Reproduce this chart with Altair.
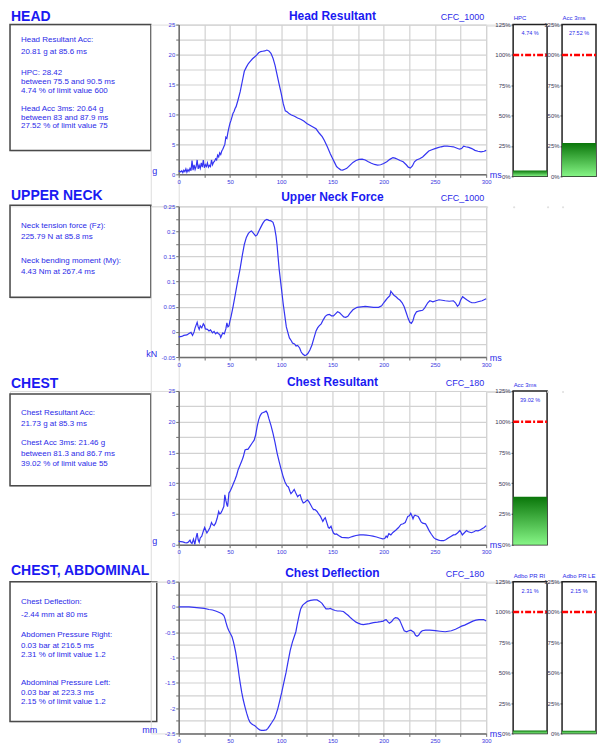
import altair as alt
import pandas as pd

FONT = "Liberation Sans"
TXT = "#2b2be8"
HEAD_BLUE = "#1a1af2"
LINE = "#3434f2"
TICK_LBL = "#3a3ae0"
GRID = "#d2d2d2"
AXIS = "#6e6e6e"

# ---------------- data ----------------
head_t = [0, 1, 2, 3, 4, 5, 6, 7, 8, 9, 10, 11, 12, 13, 14, 15, 16, 17, 18, 19, 20, 21, 22, 23, 24, 25,
          26, 27, 28, 29, 30, 31, 32, 33, 34, 35, 36, 37, 38, 39, 40, 41, 42, 43, 44, 45, 46, 47, 48, 49,
          50, 51, 52, 53, 54, 55, 56, 58, 60, 62, 64, 66, 68, 70, 72, 74, 76, 78, 80, 82, 84, 86, 88, 90,
          92, 94, 96, 98, 100, 102, 104, 106, 108, 110, 113, 116, 119, 122, 125, 128, 131, 134, 137, 140,
          142, 145, 148, 150, 152, 154, 156, 158, 160, 162, 164, 167, 170, 173, 176, 179, 182, 185, 188,
          191, 194, 197, 200, 203, 206, 209, 211, 213, 216, 219, 222, 224, 226, 228, 230, 232, 235, 238,
          241, 244, 247, 250, 253, 256, 259, 262, 265, 268, 271, 274, 276, 278, 280, 283, 286, 289, 292,
          295, 298, 300]
head_g = [0.5, 0.55, 0.4, 0.6, 0.3, 0.7, 0.45, 0.9, 0.35, 0.8, 0.5, 1.0, 0.6, 2.3, 0.7, 1.6, 0.8, 1.3,
          2.4, 0.9, 1.5, 1.0, 1.9, 1.2, 2.4, 1.1, 1.6, 1.3, 1.9, 1.2, 1.5, 1.3, 2.4, 1.6, 2.0, 2.2, 2.6,
          2.4, 3.2, 2.9, 3.6, 3.3, 3.9, 4.2, 4.6, 5.0, 6.2, 6.0, 7.0, 7.8, 8.5, 9.0, 9.6, 10.2, 10.5, 11.0,
          11.3, 12.5, 13.8, 15.5, 17.2, 17.9, 18.5, 18.9, 19.3, 19.6, 19.9, 20.3, 20.5, 20.55, 20.6, 20.75,
          20.6, 20.2, 19.4, 18.2, 16.6, 15.0, 13.5, 11.8, 10.6, 10.4, 10.1, 9.9, 9.7, 9.4, 9.2, 8.9, 8.5,
          8.2, 7.9, 7.6, 6.9, 6.3, 5.7, 4.6, 3.4, 2.7, 2.0, 1.3, 1.0, 0.75, 0.7, 0.85, 1.0, 1.5, 2.0, 2.3,
          2.5, 2.55, 2.4, 2.1, 1.85, 1.65, 1.55, 1.6, 1.8, 2.1, 2.5, 2.8, 2.7, 2.55, 2.3, 2.1, 1.6, 1.2,
          1.05, 1.4, 2.1, 2.4, 2.6, 2.9, 3.4, 3.9, 4.1, 4.3, 4.45, 4.6, 4.7, 4.7, 4.65, 4.6, 4.4, 4.2,
          4.3, 4.7, 4.6, 4.5, 4.3, 4.0, 3.85, 3.75, 3.85, 4.0]

neck_t = [0, 3, 5, 8, 10, 12, 13.5, 15, 16, 18, 19, 20, 21, 22.5, 24, 25, 26, 28, 29.5, 31, 33, 34.5,
          36, 37.5, 38.5, 40, 41, 42, 43, 44.5, 46, 47, 48, 49, 50, 51, 53, 55, 57, 60, 62, 64, 66, 68,
          70, 71, 73, 75, 76.5, 78, 80, 82, 84, 86, 88, 90, 92, 93.5, 95, 96, 97, 98, 100, 102, 104, 105,
          107, 108, 110, 111, 113, 114.5, 116, 118, 119.5, 121, 123, 124.5, 126, 128, 130, 132, 134,
          135.5, 137, 139, 141, 143, 145, 147, 149, 151, 153, 155, 157, 159, 161, 163, 165, 167, 170,
          174, 178, 182, 186, 190, 195, 198, 200, 202, 204, 206, 207, 208, 210, 212, 214, 216, 218, 220,
          222, 224, 225.5, 227, 228.5, 230, 232, 235, 238, 240, 243, 245, 248, 251, 254, 257, 260, 264,
          268, 270, 272, 273.5, 275, 277, 279, 281, 284, 286, 289, 292, 296, 300]
neck_kn = [-0.010, -0.009, -0.007, -0.006, -0.003, -0.001, -0.007, 0.0, 0.008, 0.019, 0.010, 0.005,
           0.012, 0.008, 0.016, 0.013, 0.006, 0.005, 0.002, 0.004, -0.002, 0.001, -0.004, -0.001, -0.003,
           -0.005, -0.011, -0.006, -0.002, -0.004, 0.006, 0.018, 0.010, 0.012, 0.022, 0.030, 0.050, 0.072,
           0.095, 0.127, 0.152, 0.174, 0.188, 0.196, 0.200, 0.201, 0.196, 0.191, 0.193, 0.200, 0.208,
           0.216, 0.222, 0.224, 0.222, 0.221, 0.218, 0.208, 0.190, 0.172, 0.148, 0.125, 0.090, 0.055,
           0.025, 0.010, -0.005, -0.012, -0.018, -0.022, -0.024, -0.028, -0.027, -0.032, -0.040, -0.044,
           -0.047, -0.046, -0.043, -0.036, -0.026, -0.012, 0.002, 0.008, 0.012, 0.016, 0.024, 0.031,
           0.034, 0.035, 0.032, 0.032, 0.036, 0.040, 0.038, 0.034, 0.030, 0.029, 0.031, 0.037, 0.044,
           0.049, 0.050, 0.051, 0.050, 0.049, 0.049, 0.052, 0.058, 0.063, 0.068, 0.072, 0.081, 0.078,
           0.073, 0.070, 0.066, 0.063, 0.058, 0.050, 0.038, 0.026, 0.019, 0.017, 0.022, 0.033, 0.040,
           0.042, 0.043, 0.048, 0.058, 0.062, 0.060, 0.062, 0.064, 0.063, 0.062, 0.061, 0.062, 0.058,
           0.051, 0.054, 0.063, 0.070, 0.067, 0.064, 0.060, 0.058, 0.058, 0.060, 0.062, 0.066]

chest_t = [0, 2, 4, 6, 8, 9.5, 11, 12, 13, 14.4, 15.7, 17, 18, 19, 20, 21, 22.5, 24, 25.3, 26.5, 27.5,
           29, 30.5, 32, 33, 34.5, 36, 37.5, 39, 40, 41, 42.5, 44, 45, 46, 47, 47.7, 48.5, 49, 50.5, 52,
           53.5, 55, 56.5, 58, 60, 61.5, 63, 64.7, 66, 67.5, 69.5, 71.5, 73.6, 75, 76.5, 78, 79.5, 81,
           82.5, 84, 85.3, 86.5, 88, 90, 92, 94, 96, 98, 100, 102, 103.7, 105.5, 107, 108.5, 109.5, 111,
           112.7, 114, 116, 117, 118.5, 120, 121.5, 123, 125.5, 127, 128.7, 130, 131.5, 133, 135, 136.5,
           138.3, 139.5, 140.6, 142, 143, 144.5, 146, 147, 148.6, 150, 151, 152.5, 154, 156, 159, 162,
           165.5, 168, 170, 173, 176.7, 180, 183, 186, 189.5, 193, 196, 199, 201, 202.4, 203.5, 205, 207,
           209, 212, 214.5, 216.8, 219, 221, 222.5, 223.5, 225, 226.4, 227.5, 228.6, 229.5, 230.5, 232,
           233.7, 235, 236.5, 238, 240.8, 242.5, 244.6, 246.5, 248.8, 251, 253.6, 256, 258.4, 260.5, 263,
           265.5, 268, 270, 272, 274.4, 275.5, 276.7, 278.5, 280.8, 282.5, 285.6, 288, 290, 292, 294, 296,
           298, 300]
chest_g = [0.55, 0.5, 0.45, 0.35, 0.3, 0.45, 0.75, 0.35, 0.2, 0.9, 0.05, 1.2, 1.9, 0.8, 0.4, 1.1, 1.4,
           2.2, 2.8, 2.3, 1.9, 2.3, 2.8, 3.6, 3.3, 3.1, 3.5, 4.3, 5.4, 5.0, 5.1, 5.6, 6.2, 8.1, 7.2, 6.5,
           6.2, 7.5, 8.4, 8.8, 9.4, 10.0, 10.6, 11.3, 12.2, 13.0, 13.6, 14.3, 15.4, 15.5, 15.5, 16.0,
           16.5, 17.0, 17.8, 19.2, 20.3, 21.0, 21.4, 21.5, 21.6, 21.73, 21.4, 20.5, 19.4, 18.1, 16.6,
           14.9, 13.5, 12.2, 11.0, 10.2, 9.6, 9.4, 8.7, 8.3, 8.6, 9.0, 8.5, 7.8, 8.0, 8.1, 7.3, 6.8, 6.9,
           7.3, 7.0, 6.5, 6.1, 5.7, 5.7, 5.4, 5.0, 4.6, 4.2, 3.8, 4.2, 4.4, 3.6, 2.8, 2.7, 3.0, 2.3, 1.9,
           1.7, 1.75, 1.5, 1.2, 1.15, 1.1, 1.25, 1.35, 1.5, 1.6, 1.6, 1.55, 1.5, 1.4, 1.25, 1.1, 0.95,
           1.0, 1.4, 1.2, 1.8, 1.6, 2.0, 2.4, 2.8, 3.3, 3.4, 3.6, 4.2, 4.6, 4.7, 5.1, 4.7, 4.2, 4.6, 4.8,
           4.7, 4.6, 4.2, 3.7, 3.5, 3.4, 2.9, 2.2, 1.7, 1.15, 0.9, 0.75, 0.65, 0.65, 0.8, 1.1, 1.35, 1.6,
           1.65, 1.9, 2.3, 2.0, 1.6, 1.9, 2.3, 2.1, 1.95, 2.1, 2.3, 2.25, 2.4, 2.6, 2.8, 3.1]

defl_t = [0, 5, 10, 15, 20, 25, 29.5, 33, 36, 38.5, 40.7, 42.5, 44, 45, 46, 47.5, 48.7, 50.5, 52, 53.3,
          54.4, 55.6, 56.7, 58, 59, 60.2, 61.5, 63, 64.7, 66.3, 68, 69.5, 71, 72.5, 74.3, 76, 77.5, 79,
          80.7, 83, 85.5, 87, 88.7, 91, 93.5, 95, 96.7, 98.5, 100.5, 102.5, 104.7, 106.5, 108.8, 111,
          112.5, 114.3, 115.5, 116.8, 118, 119, 120.8, 122.9, 125.5, 128.6, 132, 135, 137.5, 139.8, 141.5,
          143.7, 146, 147.9, 150, 152.7, 155, 157.5, 160.7, 163, 165.5, 168, 170.3, 173, 175, 177.5, 180,
          183, 186, 190, 194, 197, 199.6, 201, 202.4, 204, 205.6, 207.8, 209.5, 211.4, 213.6, 215.5,
          216.8, 218.5, 220, 222.4, 224.5, 226.5, 228, 229.5, 231, 232.5, 234, 236, 237.6, 240.8, 245,
          250.4, 255, 260, 263, 266, 270, 273, 276, 279, 282, 284, 287, 290, 293, 295, 297.5, 300]
defl_mm = [0.0, 0.0, 0.0, -0.01, -0.02, -0.03, -0.05, -0.06, -0.08, -0.10, -0.12, -0.14, -0.17, -0.22,
           -0.3, -0.4, -0.46, -0.53, -0.59, -0.68, -0.78, -0.9, -1.04, -1.22, -1.37, -1.53, -1.69, -1.84,
           -1.98, -2.1, -2.21, -2.28, -2.31, -2.33, -2.35, -2.38, -2.41, -2.43, -2.44, -2.44, -2.43,
           -2.40, -2.35, -2.28, -2.2, -2.12, -2.01, -1.86, -1.69, -1.5, -1.3, -1.1, -0.86, -0.69, -0.6,
           -0.49, -0.36, -0.23, -0.12, -0.04, 0.03, 0.07, 0.11, 0.13, 0.14, 0.14, 0.11, 0.07, 0.02, -0.04,
           -0.04, -0.03, -0.05, -0.07, -0.08, -0.08, -0.09, -0.13, -0.17, -0.22, -0.26, -0.3, -0.32,
           -0.34, -0.35, -0.34, -0.33, -0.31, -0.3, -0.29, -0.28, -0.26, -0.25, -0.29, -0.32, -0.29,
           -0.24, -0.21, -0.22, -0.26, -0.32, -0.4, -0.47, -0.49, -0.47, -0.46, -0.48, -0.5, -0.56,
           -0.58, -0.56, -0.5, -0.47, -0.46, -0.46, -0.47, -0.48, -0.49, -0.48, -0.47, -0.44, -0.41,
           -0.38, -0.36, -0.33, -0.31, -0.28, -0.26, -0.25, -0.25, -0.25, -0.28]

head_lines = ["Head Resultant Acc:", "20.81 g at 85.6 ms", "HPC: 28.42", "between 75.5 and 90.5 ms",
              "4.74 % of limit value 600", "Head Acc 3ms: 20.64 g", "between 83 and 87.9 ms",
              "27.52 % of limit value 75"]
neck_lines = ["Neck tension force (Fz):", "225.79 N at 85.8 ms", "Neck bending moment (My):",
              "4.43 Nm at 267.4 ms"]
chest_lines = ["Chest Resultant Acc:", "21.73 g at 85.3 ms", "Chest Acc 3ms: 21.46 g",
               "between 81.3 and 86.7 ms", "39.02 % of limit value 55"]
abdo_lines = ["Chest Deflection:", "-2.44 mm at 80 ms", "Abdomen Pressure Right:", "0.03 bar at 216.5 ms",
              "2.31 % of limit value 1.2", "Abdominal Pressure Left:", "0.03 bar at 223.3 ms",
              "2.15 % of limit value 1.2"]

gauge_names = ["HPC", "Acc 3ms", "Acc 3ms", "Adbo PR RI", "Adbo PR LE"]
gauge_pct = [4.74, 27.52, 39.02, 2.31, 2.15]
gauge_pct_labels = ["4.74 %", "27.52 %", "39.02 %", "2.31 %", "2.15 %"]
gauge_ticks = [0, 25, 50, 75, 100, 125]
gauge_limit = 100

# ---------------- layout (pixels) ----------------
head_line_y = [15, 27.3, 48.7, 58, 66.5, 85, 93.2, 101.7]
neck_line_y = [20, 30.6, 55, 66]
chest_line_y = [21.7, 33, 52.3, 63, 73.3]
abdo_line_y = [20, 33.3, 53.3, 64.3, 73, 101.3, 111.7, 120.3]
PANEL_W, GAP1, CHART_W, GAP2, GAUGE_W, GAP3 = 141, 28, 308, 27, 34, 15

ONE = alt.Data(values=[{"a": 0}])
NONE = alt.Data(values=[])

GRAD = alt.LinearGradient(
    gradient="linear",
    stops=[alt.GradientStop(color="#0a760a", offset=0), alt.GradientStop(color="#86f586", offset=1)],
    x1=0, x2=0, y1=0, y2=1)


def spacer(w, h):
    return alt.Chart(NONE).mark_point(opacity=0, size=0).encode(
        x=alt.value(1), y=alt.value(1)).properties(width=w, height=h)


def text_panel(heading, heading_y, lines, line_ys, box_top, box_h, box_w, h):
    box = alt.Chart(ONE).mark_rect(fill="white", fillOpacity=0, stroke="#4a4a4a", strokeWidth=1.5).encode(
        x=alt.value(0), x2=alt.value(box_w), y=alt.value(box_top), y2=alt.value(box_top + box_h))
    head = alt.Chart(ONE).mark_text(text=heading, align="left", baseline="alphabetic", fontSize=14,
                                    fontWeight="bold", color=HEAD_BLUE, font=FONT).encode(
        x=alt.value(1), y=alt.value(heading_y))
    df = pd.DataFrame({"line": lines, "ypos": line_ys})
    body = alt.Chart(df).mark_text(align="left", baseline="middle", fontSize=8, color=TXT, font=FONT).encode(
        x=alt.value(11), y=alt.Y("ypos:Q", scale=None, axis=None), text="line:N")
    return alt.layer(box, head, body).properties(width=PANEL_W, height=h)


def line_chart(t, v, title, cfc, ylo, yhi, ymajor, ytitle, h):
    w = CHART_W
    yminor = ymajor / 2
    n = int(round((yhi - ylo) / yminor))
    yvals = [round(ylo + i * yminor, 4) for i in range(n + 1)]
    ylab = (f"abs(datum.value / {ymajor} - round(datum.value / {ymajor})) < 0.001 "
            f"? '' + datum.value : ''")
    common = dict(grid=True, gridColor=GRID, gridWidth=1.2, domainColor=AXIS, domainWidth=1.5,
                  tickColor=AXIS, tickSize=3, tickWidth=1, labelFontSize=6, labelColor=TICK_LBL,
                  labelFont=FONT, labelOverlap=False, labelFlush=False, titleFont=FONT, titleFontSize=9,
                  titleFontWeight="normal", titleColor=TXT, titleAngle=0, titleBaseline="middle")
    xax = alt.Axis(values=list(range(0, 301, 25)),
                   labelExpr="datum.value % 50 == 0 ? '' + datum.value : ''", labelPadding=1,
                   title="ms", titleX=w + 3, titleY=0, titleAlign="left", **common)
    yax = alt.Axis(values=yvals, labelExpr=ylab, labelPadding=1, title=ytitle, titleX=-22,
                   titleY=h - 4, titleAlign="right", **common)
    df = pd.DataFrame({"t": t, "v": v})
    line = alt.Chart(df).mark_line(color=LINE, strokeWidth=1.2).encode(
        x=alt.X("t:Q", scale=alt.Scale(domain=[0, 300], nice=False, zero=False), axis=xax),
        y=alt.Y("v:Q", scale=alt.Scale(domain=[ylo, yhi], nice=False, zero=False), axis=yax))
    cfc_txt = alt.Chart(ONE).mark_text(text=cfc, align="right", baseline="alphabetic", fontSize=9,
                                       color=TXT, font=FONT).encode(x=alt.value(w - 2), y=alt.value(-5))
    ttl = alt.Chart(ONE).mark_text(text=title, align="center", baseline="alphabetic", fontSize=12,
                                   fontWeight="bold", color=HEAD_BLUE, font=FONT).encode(
        x=alt.value(w / 2), y=alt.value(-5))
    return alt.layer(line, cfc_txt, ttl).properties(width=w, height=h)


def gauge(i, h, title_y, val_y):
    w = GAUGE_W
    df = pd.DataFrame({"pct": [gauge_pct[i]]})
    ysc = alt.Scale(domain=[0, 125], nice=False, zero=True)
    yax = alt.Axis(values=gauge_ticks, labelExpr="datum.value + '%'", grid=False, domain=False,
                   ticks=True, tickSize=2, tickColor="#333333", labelFontSize=6, labelColor="#3a3a58",
                   labelFont=FONT, labelPadding=1, title=None, labelOverlap=False)
    bar = alt.Chart(df).mark_bar(color=GRAD).encode(
        x=alt.value(0), x2=alt.value(w), y=alt.Y("pct:Q", scale=ysc, axis=yax), y2=alt.datum(0))
    lim = alt.Chart(ONE).mark_rule(color="#ff0000", strokeWidth=2.5, strokeDash=[6, 2, 2, 2]).encode(
        x=alt.value(0), x2=alt.value(w), y=alt.YDatum(gauge_limit, scale=ysc, axis=yax))
    val = alt.Chart(ONE).mark_text(text=gauge_pct_labels[i], align="center", baseline="middle",
                                   fontSize=5.5, color=TXT, font=FONT).encode(
        x=alt.value(w / 2), y=alt.value(val_y))
    ttl = alt.Chart(ONE).mark_text(text=gauge_names[i], align="left", baseline="alphabetic",
                                   fontSize=6, color=TXT, font=FONT).encode(
        x=alt.value(0.5), y=alt.value(title_y))
    return alt.layer(bar, lim, val, ttl).properties(
        width=w, height=h, view=alt.ViewBackground(stroke="#222222", strokeWidth=1.5))


row1 = [
    text_panel("HEAD", -4, head_lines, head_line_y, 0, 126, PANEL_W, 126),
    spacer(GAP1, 182),
    line_chart(head_t, head_g, "Head Resultant", "CFC_1000", 0, 25, 5, "g", 150),
    spacer(GAP2, 1),
    gauge(0, 152, -5, 8),
    spacer(GAP3, 1),
    gauge(1, 152, -5, 8),
]
row2 = [
    text_panel("UPPER NECK", -6, neck_lines, neck_line_y, -1, 92, PANEL_W, 92),
    spacer(GAP1, 185),
    line_chart(neck_t, neck_kn, "Upper Neck Force", "CFC_1000", -0.05, 0.25, 0.05, "kN", 151),
    spacer(1, 1), spacer(1, 1), spacer(1, 1), spacer(1, 1),
]
row3 = [
    text_panel("CHEST", -3, chest_lines, chest_line_y, 3, 92, PANEL_W, 95),
    spacer(GAP1, 191),
    line_chart(chest_t, chest_g, "Chest Resultant", "CFC_180", 0, 25, 5, "g", 154),
    spacer(GAP2, 1),
    gauge(2, 154, -4, 9.5),
    spacer(1, 1), spacer(1, 1),
]
row4 = [
    text_panel("CHEST, ABDOMINAL", -7, abdo_lines, abdo_line_y, 0, 140, 147, 140),
    spacer(GAP1, 152),
    line_chart(defl_t, defl_mm, "Chest Deflection", "CFC_180", -2.5, 0.5, 0.5, "mm", 152),
    spacer(GAP2, 1),
    gauge(3, 152, -3.5, 9.5),
    spacer(GAP3, 1),
    gauge(4, 152, -3.5, 9.5),
]

chart = alt.concat(
    *(row1 + row2 + row3 + row4), columns=7, spacing=0, bounds="flush",
    align={"row": "each", "column": "each"}
).properties(padding=0).configure_view(stroke=None).configure(background="white", font=FONT)

chart.save("out.html", embed_options={"renderer": "svg", "actions": False})
